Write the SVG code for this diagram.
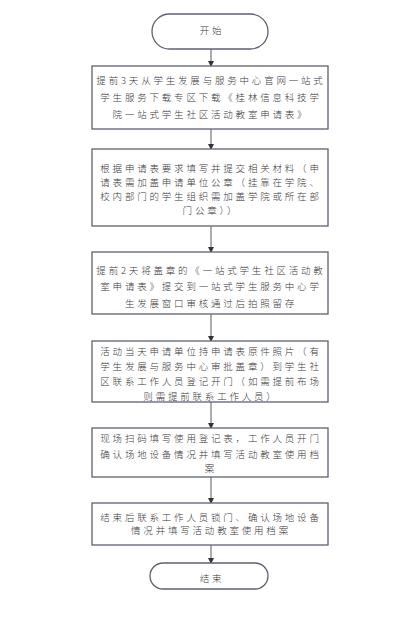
<svg xmlns="http://www.w3.org/2000/svg" width="409" height="630" viewBox="0 0 409 630">
<defs>
<style>
.box{fill:#fff;stroke:#5f6072;stroke-width:1.3}
.t{font-family:"Noto Sans CJK SC","Noto Sans CJK JP",sans-serif;font-size:9.5px;font-weight:300;letter-spacing:2.8px;fill:#3a3a3a;text-anchor:middle}
.c{stroke:#8a8a8a;stroke-width:1.4;fill:none;marker-end:url(#ah)}
</style>
<marker id="ah" markerWidth="6" markerHeight="6" refX="5" refY="3" orient="auto" markerUnits="userSpaceOnUse">
<path d="M0,0 L6,3 L0,6 z" fill="#333"/>
</marker>
</defs>
<rect width="409" height="630" fill="#fff"/>
<g id="connectors">
<line class="c" x1="211" y1="49" x2="211" y2="66"/>
<line class="c" x1="211" y1="129" x2="211" y2="149"/>
<line class="c" x1="211" y1="226" x2="211" y2="252"/>
<line class="c" x1="211" y1="314" x2="211" y2="341"/>
<line class="c" x1="211" y1="402" x2="211" y2="428"/>
<line class="c" x1="211" y1="477" x2="211" y2="503"/>
<line class="c" x1="211" y1="545" x2="211" y2="563"/>
</g>
<g id="start">
<rect class="box" x="152" y="14" width="116" height="35" rx="17.5"/>
<text class="t" x="212" y="34">开始</text>
</g>
<g id="step1">
<rect class="box" x="92" y="66" width="236" height="63"/>
<text class="t" x="211" y="83.5">提前3天从学生发展与服务中心官网一站式</text>
<text class="t" x="211" y="101">学生服务下载专区下载《桂林信息科技学</text>
<text class="t" x="211" y="118">院一站式学生社区活动教室申请表》</text>
</g>
<g id="step2">
<rect class="box" x="92" y="149" width="236" height="77"/>
<text class="t" x="211" y="171.5">根据申请表要求填写并提交相关材料（申</text>
<text class="t" x="211" y="185.5">请表需加盖申请单位公章（挂靠在学院、</text>
<text class="t" x="211" y="199.5">校内部门的学生组织需加盖学院或所在部</text>
<text class="t" x="211" y="213.5">门公章））</text>
</g>
<g id="step3">
<rect class="box" x="92" y="252" width="236" height="62"/>
<text class="t" x="211" y="273.5">提前2天将盖章的《一站式学生社区活动教</text>
<text class="t" x="211" y="290">室申请表》提交到一站式学生服务中心学</text>
<text class="t" x="211" y="306.5">生发展窗口审核通过后拍照留存</text>
</g>
<g id="step4">
<rect class="box" x="92" y="341" width="236" height="61"/>
<text class="t" x="211" y="355">活动当天申请单位持申请表原件照片（有</text>
<text class="t" x="211" y="370">学生发展与服务中心审批盖章）到学生社</text>
<text class="t" x="211" y="385">区联系工作人员登记开门（如需提前布场</text>
<text class="t" x="211" y="400">则需提前联系工作人员）</text>
</g>
<g id="step5">
<rect class="box" x="92" y="428" width="236" height="49"/>
<text class="t" x="211" y="441.5">现场扫码填写使用登记表，工作人员开门</text>
<text class="t" x="211" y="457.5">确认场地设备情况并填写活动教室使用档</text>
<text class="t" x="211" y="471.5">案</text>
</g>
<g id="step6">
<rect class="box" x="92" y="503" width="236" height="42"/>
<text class="t" x="211" y="520.5">结束后联系工作人员锁门、确认场地设备</text>
<text class="t" x="211" y="534">情况并填写活动教室使用档案</text>
</g>
<g id="end">
<rect class="box" x="150" y="563" width="118" height="26" rx="13"/>
<text class="t" x="212" y="581.5">结束</text>
</g>
</svg>
